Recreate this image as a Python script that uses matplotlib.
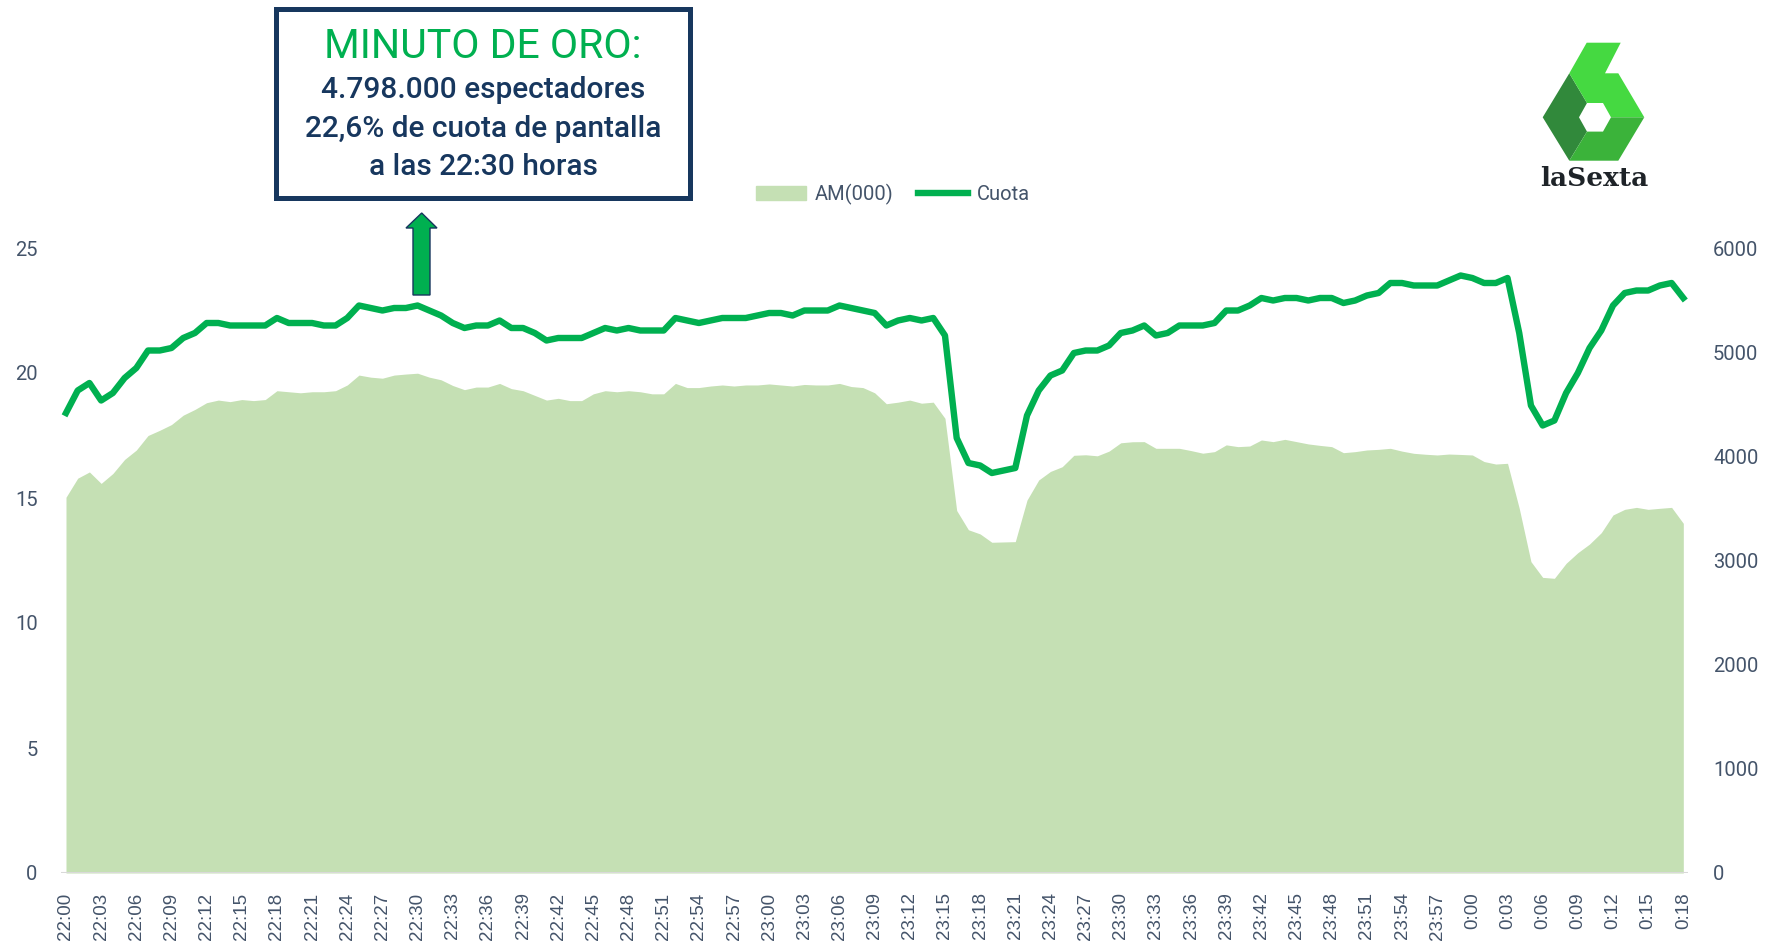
import matplotlib
matplotlib.use("Agg")
import matplotlib.pyplot as plt
from matplotlib.patches import Rectangle, Polygon, Patch
from matplotlib.lines import Line2D
import numpy as np

plt.rcParams['font.family'] = ['Roboto', 'DejaVu Sans']

# minutos desde las 22:00 (una muestra por minuto hasta las 0:18)
minutos = list(range(139))

cuota = [18.4, 19.3, 19.6, 18.9, 19.2, 19.8, 20.2, 20.9, 20.9, 21.0,
         21.4, 21.6, 22.0, 22.0, 21.9, 21.9, 21.9, 21.9, 22.2, 22.0,
         22.0, 22.0, 21.9, 21.9, 22.2, 22.7, 22.6, 22.5, 22.6, 22.6,
         22.7, 22.5, 22.3, 22.0, 21.8, 21.9, 21.9, 22.1, 21.8, 21.8,
         21.6, 21.3, 21.4, 21.4, 21.4, 21.6, 21.8, 21.7, 21.8, 21.7,
         21.7, 21.7, 22.2, 22.1, 22.0, 22.1, 22.2, 22.2, 22.2, 22.3,
         22.4, 22.4, 22.3, 22.5, 22.5, 22.5, 22.7, 22.6, 22.5, 22.4,
         21.9, 22.1, 22.2, 22.1, 22.2, 21.5, 17.4, 16.4, 16.3, 16.0,
         16.1, 16.2, 18.3, 19.3, 19.9, 20.1, 20.8, 20.9, 20.9, 21.1,
         21.6, 21.7, 21.9, 21.5, 21.6, 21.9, 21.9, 21.9, 22.0, 22.5,
         22.5, 22.7, 23.0, 22.9, 23.0, 23.0, 22.9, 23.0, 23.0, 22.8,
         22.9, 23.1, 23.2, 23.6, 23.6, 23.5, 23.5, 23.5, 23.7, 23.9,
         23.8, 23.6, 23.6, 23.8, 21.6, 18.7, 17.9, 18.1, 19.2, 20.0,
         21.0, 21.7, 22.7, 23.2, 23.3, 23.3, 23.5, 23.6, 23.0]

am = [3607, 3790, 3850, 3740, 3835, 3970, 4060, 4200, 4250, 4305,
      4395, 4450, 4515, 4540, 4525, 4545, 4535, 4545, 4630, 4620,
      4610, 4620, 4620, 4630, 4685, 4780, 4760, 4750, 4780, 4790,
      4798, 4760, 4735, 4680, 4640, 4665, 4665, 4700, 4650, 4630,
      4585, 4540, 4557, 4535, 4535, 4600, 4630, 4620, 4630, 4620,
      4600, 4600, 4700, 4660, 4660, 4675, 4685, 4675, 4685, 4685,
      4695, 4685, 4675, 4690, 4685, 4685, 4700, 4670, 4660, 4610,
      4505, 4520, 4540, 4510, 4520, 4365, 3480, 3295, 3255, 3175,
      3178, 3181, 3580, 3773, 3855, 3900, 4010, 4015, 4005, 4050,
      4130, 4140, 4141, 4077, 4077, 4077, 4055, 4030, 4045, 4110,
      4093, 4099, 4157, 4141, 4163, 4141, 4119, 4105, 4093, 4035,
      4045, 4061, 4067, 4077, 4050, 4029, 4020, 4013, 4022, 4018,
      4013, 3950, 3926, 3933, 3501, 2989, 2838, 2829, 2973, 3075,
      3158, 3267, 3437, 3491, 3510, 3491, 3501, 3510, 3357]

etiquetas = ["22:00", "22:03", "22:06", "22:09", "22:12", "22:15", "22:18",
             "22:21", "22:24", "22:27", "22:30", "22:33", "22:36", "22:39",
             "22:42", "22:45", "22:48", "22:51", "22:54", "22:57", "23:00",
             "23:03", "23:06", "23:09", "23:12", "23:15", "23:18", "23:21",
             "23:24", "23:27", "23:30", "23:33", "23:36", "23:39", "23:42",
             "23:45", "23:48", "23:51", "23:54", "23:57", "0:00", "0:03",
             "0:06", "0:09", "0:12", "0:15", "0:18"]
pos_etiquetas = minutos[::3]

verde = '#00B050'
verde_claro = '#C5E0B4'
gris = '#44546A'
azul = '#17375E'

W, H = 1783, 952
fig = plt.figure(figsize=(W / 100, H / 100), dpi=100)
x0 = 61.3 / W
ax = fig.add_axes([x0, 79 / H, 1626.7 / W, 625 / H])
ax2 = ax.twinx()

ax2.fill_between(minutos, 0, am, color=verde_claro, lw=0)
ax2.set_ylim(0, 6000)
ax2.set_yticks(range(0, 6001, 1000))

ax.plot(minutos, cuota, color=verde, lw=4.6, solid_joinstyle='round')
ax.axhline(0, color='#D9D9D9', lw=2.2, zorder=0)
ax.set_ylim(0, 25)
ax.set_yticks(range(0, 26, 5))
ax.set_xlim(-0.4, 138.4)
ax.set_zorder(ax2.get_zorder() + 1)
ax.patch.set_visible(False)

ax.set_xticks(pos_etiquetas)
ax.set_xticklabels(etiquetas, rotation=90, family=['Liberation Sans'],
                   fontsize=13.5, color=gris)
for a in (ax, ax2):
    for s in a.spines.values():
        s.set_visible(False)
    a.tick_params(length=0)
ax.tick_params(axis='x', pad=14)
ax.tick_params(axis='y', labelsize=14.5, labelcolor=gris, pad=17)
ax2.tick_params(axis='y', labelsize=14.5, labelcolor=gris, pad=18)

# leyenda
handles = [Patch(color=verde_claro), Line2D([], [], color=verde, lw=4.6)]
leg = fig.legend(handles, ['AM(000)', 'Cuota'], ncol=2, frameon=False,
                 loc='center', bbox_to_anchor=(893 / W, 1 - 194 / H),
                 fontsize=14.5, handlelength=2.5, handletextpad=0.45,
                 columnspacing=1.2)
for t in leg.get_texts():
    t.set_color(gris)

# capa superior en pixeles para recuadro, flecha y logo
ov = fig.add_axes([0, 0, 1, 1], zorder=10)
ov.set_xlim(0, W)
ov.set_ylim(H, 0)
ov.axis('off')
ov.patch.set_visible(False)

ov.add_patch(Rectangle((276, 9), 414, 189, fill=False, ec=azul, lw=3.6))
ov.text(483, 47, 'MINUTO DE ORO:', color=verde, fontsize=29.5,
        ha='center', va='center')
ov.text(483, 90, '4.798.000 espectadores', color=azul, fontsize=21.5,
        weight='medium', ha='center', va='center')
ov.text(483, 129, '22,6% de cuota de pantalla', color=azul, fontsize=21.5,
        weight='medium', ha='center', va='center')
ov.text(483, 167, 'a las 22:30 horas', color=azul, fontsize=21.5,
        weight='medium', ha='center', va='center')

flecha = [(421.7, 213), (437, 228), (430, 228), (430, 295), (413, 295),
          (413, 228), (406, 228)]
ov.add_patch(Polygon(flecha, closed=True, fc=verde, ec=azul, lw=1))

# logo laSexta
L, TL, BL = (1542.7, 117.3), (1569.3, 73.3), (1569.3, 160.7)
BR, R, TR = (1618.3, 160.7), (1644.3, 117.3), (1618.3, 73.3)
F1, F2, F3 = (1586.7, 42.7), (1620.7, 42.7), (1605, 73.3)
IL, ITL, ITR = (1579, 117.3), (1587, 103), (1603, 103)
IR, IBR, IBL = (1611, 117.3), (1603, 131.6), (1587, 131.6)
ov.add_patch(Polygon([TL, L, BL, IBL, IL, ITL], fc='#31893B', lw=0))
ov.add_patch(Polygon([TL, F1, F2, F3, TR, R, IR, ITR, ITL], fc='#45D941', lw=0))
ov.add_patch(Polygon([R, BR, BL, IBL, IBR, IR], fc='#3BB33A', lw=0))
ov.text(1594, 178, 'laSexta', color='#1E2328', fontsize=19, weight='bold',
        family=['DejaVu Serif'], ha='center', va='center')

fig.savefig('out.png', dpi=100)
